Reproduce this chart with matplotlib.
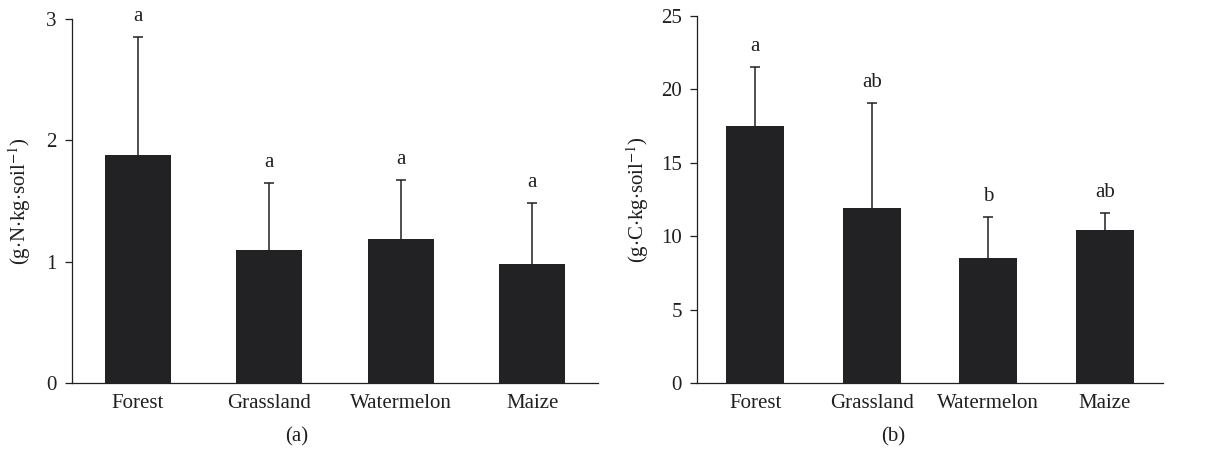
import matplotlib.pyplot as plt
import numpy as np

plt.rcParams['font.family'] = ['Liberation Serif', 'DejaVu Serif']
plt.rcParams['mathtext.fontset'] = 'stix'

# donnees
sites = ['Forest', 'Grassland', 'Watermelon', 'Maize']
azote = [1.88, 1.10, 1.19, 0.98]
azote_err = [0.97, 0.55, 0.48, 0.50]
azote_lettres = ['a', 'a', 'a', 'a']
carbone = [17.5, 11.9, 8.5, 10.45]
carbone_err = [4.0, 7.2, 2.8, 1.1]
carbone_lettres = ['a', 'ab', 'b', 'ab']

noir = '#222224'
texte = '#231f20'
fs = 15

fig = plt.figure(figsize=(12.25, 4.55), dpi=100)
axa = fig.add_axes([72/1225, 1-383/455, 526/1225, (383-19)/455])
axb = fig.add_axes([697/1225, 1-383/455, 466/1225, (383-16)/455])


def trace(ax, valeurs, erreurs, lettres, ymax, pas, label, xlab):
    x = np.arange(len(sites))
    ax.bar(x, valeurs, width=0.5, color=noir, zorder=2)
    hauts = np.array(valeurs) + np.array(erreurs)
    ax.vlines(x, valeurs, hauts, color=texte, lw=1.1, zorder=1)
    ax.plot(x, hauts, ls='none', marker='_', ms=7, mew=1.1, color=texte)
    for xi, h, l in zip(x, hauts, lettres):
        ax.annotate(l, (xi, h), xytext=(0, 11.5), textcoords='offset points',
                    ha='center', va='baseline', fontsize=fs, color=texte)
    ax.set_xlim(-0.5, len(sites) - 0.5)
    ax.set_ylim(0, ymax)
    ax.set_yticks(np.arange(0, ymax + pas/2, pas))
    ax.set_xticks(x)
    ax.set_xticklabels(sites)
    for s in ['top', 'right']:
        ax.spines[s].set_visible(False)
    for s in ['left', 'bottom']:
        ax.spines[s].set_color(texte)
        ax.spines[s].set_linewidth(0.9)
    ax.tick_params(axis='y', length=5, width=0.9, pad=6, labelsize=fs,
                   colors=texte)
    ax.tick_params(axis='x', length=0, pad=8, labelsize=fs, colors=texte)
    ax.set_ylabel(label, fontsize=fs, color=texte)
    ax.yaxis.set_label_coords(xlab, 0.5)


trace(axa, azote, azote_err, azote_lettres, 3, 1,
      r'(g$\cdot$N$\cdot$kg$\cdot$soil$^{-1}$)', -0.074)
trace(axb, carbone, carbone_err, carbone_lettres, 25, 5,
      r'(g$\cdot$C$\cdot$kg$\cdot$soil$^{-1}$)', -0.098)

fig.text(297/1225, 1-437/455, '(a)', ha='center', va='center', fontsize=fs,
         color=texte)
fig.text(893/1225, 1-437/455, '(b)', ha='center', va='center', fontsize=fs,
         color=texte)

fig.savefig('out.png', dpi=100)
